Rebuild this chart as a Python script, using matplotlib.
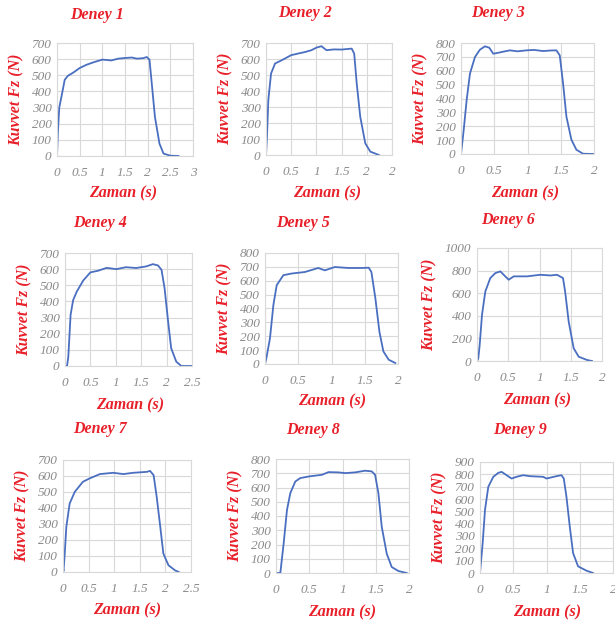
import matplotlib.pyplot as plt

W, H = 615, 620

# curves: time (s) and force (N)
t1 = [0, 0.02, 0.05, 0.1, 0.17, 0.24, 0.35, 0.5, 0.65, 0.8, 1.0, 1.2, 1.35, 1.5, 1.65, 1.76, 1.9, 1.98, 2.04, 2.09, 2.16, 2.26, 2.35, 2.5, 2.68]
f1 = [0, 150, 300, 370, 472, 497, 515, 545, 565, 580, 597, 592, 603, 607, 610, 603, 606, 613, 597, 451, 243, 77, 15, 2, 0]
t2 = [0, 0.02, 0.046, 0.1, 0.18, 0.31, 0.5, 0.65, 0.78, 0.9, 1.0, 1.1, 1.2, 1.35, 1.5, 1.7, 1.75, 1.8, 1.87, 1.97, 2.07, 2.24]
f2 = [0, 120, 343, 509, 572, 592, 624, 635, 644, 655, 671, 680, 655, 660, 659, 665, 634, 447, 239, 73, 21, 0]
t3 = [0, 0.04, 0.085, 0.135, 0.21, 0.285, 0.36, 0.425, 0.485, 0.545, 0.64, 0.735, 0.85, 0.985, 1.1, 1.235, 1.35, 1.435, 1.485, 1.535, 1.585, 1.66, 1.735, 1.835, 1.985]
f3 = [0, 170, 389, 580, 699, 752, 776, 766, 723, 728, 738, 747, 740, 747, 750, 742, 746, 747, 711, 508, 270, 103, 31, 2, 0]
t4 = [0, 0.04, 0.065, 0.11, 0.16, 0.23, 0.36, 0.5, 0.65, 0.82, 1.01, 1.2, 1.4, 1.6, 1.73, 1.83, 1.9, 1.96, 2.03, 2.09, 2.19, 2.29, 2.49]
f4 = [0, 0, 56, 317, 408, 460, 530, 580, 590, 608, 600, 612, 607, 617, 631, 623, 596, 482, 275, 110, 27, 0, 0]
t5 = [0, 0.02, 0.075, 0.126, 0.176, 0.276, 0.4, 0.6, 0.8, 0.9, 1.05, 1.25, 1.46, 1.56, 1.6, 1.66, 1.72, 1.78, 1.86, 1.96]
f5 = [0, 40, 186, 425, 568, 640, 652, 663, 692, 675, 699, 692, 692, 694, 663, 473, 234, 91, 31, 7]
t6 = [0, 0.02, 0.043, 0.08, 0.133, 0.213, 0.293, 0.373, 0.427, 0.507, 0.587, 0.8, 1.013, 1.173, 1.28, 1.376, 1.41, 1.467, 1.547, 1.627, 1.76, 1.84]
f6 = [0, 20, 142, 408, 615, 734, 778, 793, 763, 719, 749, 749, 763, 757, 763, 734, 615, 349, 112, 38, 9, 0]
t7 = [0, 0.01, 0.03, 0.065, 0.13, 0.23, 0.39, 0.52, 0.72, 0.98, 1.18, 1.37, 1.64, 1.7, 1.77, 1.83, 1.9, 1.96, 2.06, 2.19, 2.26]
f7 = [20, 5, 94, 282, 428, 501, 564, 585, 612, 620, 612, 620, 626, 632, 605, 470, 282, 115, 42, 10, 0]
t8 = [0, 0.065, 0.115, 0.165, 0.215, 0.29, 0.365, 0.5, 0.69, 0.79, 0.94, 1.04, 1.19, 1.34, 1.44, 1.49, 1.54, 1.59, 1.665, 1.74, 1.84, 1.965]
f8 = [0, 0, 207, 442, 560, 642, 666, 678, 689, 708, 706, 701, 706, 718, 713, 689, 560, 325, 136, 42, 14, 0]
t9 = [0, 0.04, 0.075, 0.125, 0.2, 0.275, 0.325, 0.4, 0.475, 0.55, 0.65, 0.75, 0.95, 1.0, 1.15, 1.225, 1.26, 1.3, 1.35, 1.4, 1.475, 1.6, 1.7]
f9 = [0, 242, 511, 699, 780, 812, 820, 793, 766, 780, 793, 785, 780, 766, 785, 793, 766, 618, 376, 161, 54, 19, 0]

times = [t1, t2, t3, t4, t5, t6, t7, t8, t9]
forces = [f1, f2, f3, f4, f5, f6, f7, f8, f9]
titles = ["Deney %d" % i for i in range(1, 10)]

x_max = [3, 2.5, 2, 2.5, 2, 2, 2.5, 2, 2]
x_labels = [
    ["0", "0.5", "1", "1.5", "2", "2.5", "3"],
    ["0", "0.5", "1", "1.5", "2", "2"],
    ["0", "0.5", "1", "1.5", "2"],
    ["0", "0.5", "1", "1.5", "2", "2.5"],
    ["0", "0.5", "1", "1.5", "2"],
    ["0", "0.5", "1", "1.5", "2"],
    ["0", "0.5", "1", "1.5", "2", "2.5"],
    ["0", "0.5", "1", "1.5", "2"],
    ["0", "0.5", "1", "1.5", "2"],
]
y_max = [700, 700, 800, 700, 800, 1000, 700, 800, 900]
y_step = [100, 100, 100, 100, 100, 200, 100, 100, 100]

# plot boxes in pixels: left, top, right, bottom
boxes = [
    (57, 43, 193, 156), (266, 43, 392, 155), (461, 43, 594, 154),
    (65, 253, 192, 366), (265, 253, 398, 364), (477, 248, 602, 361),
    (63, 460, 191, 572), (276, 459, 409, 573), (480, 462, 613, 573),
]
title_pos = [(97, 15), (305, 13), (498, 13), (100, 223), (303, 223),
             (508, 220), (100, 429), (313, 430), (520, 430)]
xlab_pos = [(123, 193), (327, 193), (525, 193), (130, 405), (332, 401),
            (537, 400), (127, 610), (342, 612), (547, 612)]

red = "#e8202a"
grey = "#8a8a8a"
blue = "#4a6fc0"
serif = ["Liberation Serif", "DejaVu Serif"]

fig = plt.figure(figsize=(W / 100, H / 100), dpi=100)

for i in range(9):
    l, t, r, b = boxes[i]
    ax = fig.add_axes([l / W, 1 - b / H, (r - l) / W, (b - t) / H])
    ax.plot(times[i], forces[i], color=blue, lw=1.3)
    ax.set_xlim(0, x_max[i])
    ax.set_ylim(0, y_max[i])
    xt = [k * 0.5 for k in range(len(x_labels[i]))]
    ax.set_xticks(xt)
    ax.set_xticklabels(x_labels[i])
    ax.set_yticks(list(range(0, y_max[i] + 1, y_step[i])))
    ax.grid(True, color="#d9d9d9", lw=0.8)
    ax.set_axisbelow(True)
    for s in ax.spines.values():
        s.set_color("#d9d9d9")
    ax.tick_params(length=0, labelsize=9.5, labelcolor=grey)
    ax.tick_params(axis="x", pad=8)
    ax.tick_params(axis="y", pad=4)
    for lab in ax.get_xticklabels() + ax.get_yticklabels():
        lab.set_family(serif)
        lab.set_style("italic")
    ax.set_ylabel("Kuvvet Fz (N)", color=red, fontsize=11.5, family=serif,
                  style="italic", fontweight="bold", labelpad=5)

    tx, ty = title_pos[i]
    fig.text(tx / W, 1 - ty / H, titles[i], color=red, fontsize=11.5,
             family=serif, style="italic", fontweight="bold",
             ha="center", va="center")
    lx, ly = xlab_pos[i]
    fig.text(lx / W, 1 - ly / H, "Zaman (s)", color=red, fontsize=11.5,
             family=serif, style="italic", fontweight="bold",
             ha="center", va="center")

fig.savefig("out.png", dpi=100)
